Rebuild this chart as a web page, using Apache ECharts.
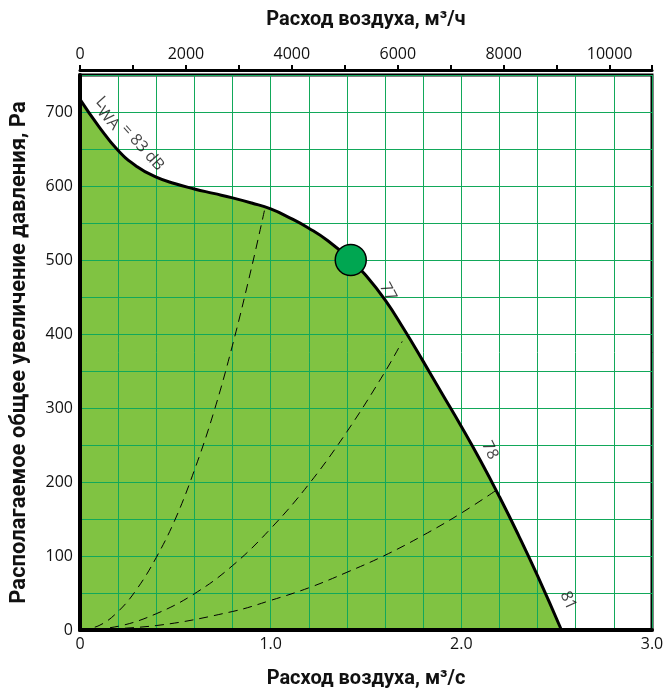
<!DOCTYPE html>
<html>
<head>
<meta charset="utf-8">
<script src="https://cdn.jsdelivr.net/npm/echarts@6/dist/echarts.min.js"></script>
<style>
  html, body { margin: 0; padding: 0; background: #ffffff; }
  #chart { width: 664px; height: 689px; }
</style>
</head>
<body>
<div id="chart"></div>
<script>
// Fan curve: airflow (m³/s) and available total pressure (Pa)
const fanFlow     = [0, 0.1, 0.2, 0.3, 0.4, 0.5, 0.6, 0.7, 0.8, 0.9, 1.0, 1.1, 1.2, 1.3, 1.42, 1.5, 1.6, 1.7, 1.8, 1.9, 2.0, 2.1, 2.2, 2.3, 2.4, 2.525];
const fanPressure = [717, 680, 648, 626, 612, 603, 596, 590, 584, 577, 569, 557, 543, 526, 500, 479, 446, 406, 363, 319, 275, 229, 180, 128, 73, 0];

// System characteristics (dashed)
const sysSteepFlow     = [0, 0.1, 0.2, 0.3, 0.4, 0.5, 0.6, 0.7, 0.8, 0.9, 0.97];
const sysSteepPressure = [0, 6, 25, 56, 98, 150, 216, 293, 385, 490, 570];
const sysMidFlow       = [0, 0.2, 0.4, 0.6, 0.8, 1.0, 1.2, 1.4, 1.6, 1.69];
const sysMidPressure   = [0, 5, 22, 49, 87, 137, 197, 268, 349, 390];
const sysLowFlow       = [0, 0.4, 0.8, 1.0, 1.2, 1.4, 1.6, 1.8, 2.0, 2.19];
const sysLowPressure   = [0, 6, 25, 40, 57, 78, 101, 128, 158, 190];

// Operating point
const dutyFlow = 1.42;
const dutyPressure = 500;

// Sound power labels along the curve
const soundText     = ['83', '77', '78', '81'];
const soundFlow     = [0.25, 1.615, 2.15, 2.56];
const soundPressure = [668, 457, 243, 40];

// Tick labels
const flowTicks     = ['0', '1.0', '2.0', '3.0'];
const flowHourTicks = [0, 2000, 4000, 6000, 8000, 10000];
const pressureTicks = [0, 100, 200, 300, 400, 500, 600, 700];

const pairs = (xs, ys) => xs.map((x, i) => [x, ys[i]]);

const tickFont = { fontFamily: 'Open Sans', fontSize: 16, color: '#111' };
const titleFont = { fontFamily: 'Roboto', fontWeight: 'bold', fontSize: 20, color: '#111' };
const sideTitleFont = { fontFamily: 'Roboto', fontWeight: 'bold', fontSize: 22, color: '#111' };
const gridGreen = '#12a85a';

const soundAngles = [-48, -62, -64, -66];
const soundData = soundText.map((t, i) => ({
  value: [soundFlow[i], soundPressure[i]],
  name: t,
  label: { rotate: soundAngles[i] }
}));

const chart = echarts.init(document.getElementById('chart'), null, { renderer: 'canvas' });

chart.setOption({
  animation: false,
  backgroundColor: '#ffffff',
  grid: {
    left: 80, right: 12, top: 75, bottom: 59,
    outerBoundsMode: 'none', containLabel: false,
    show: true, borderColor: '#000', borderWidth: 3, backgroundColor: 'transparent'
  },
  xAxis: [
    {
      type: 'value', position: 'bottom', min: 0, max: 3, interval: 0.2, z: 2,
      name: 'Расход воздуха, м³/с', nameLocation: 'middle', nameGap: 39,
      nameTextStyle: titleFont,
      axisLine: { show: true, onZero: false, lineStyle: { color: '#000', width: 4 } },
      axisTick: { show: false },
      axisLabel: Object.assign({
        margin: 6,
        formatter: v => {
          const r = Math.round(v);
          return Math.abs(v - r) < 1e-6 ? flowTicks[r] : '';
        }
      }, tickFont),
      splitLine: { show: true, lineStyle: { color: gridGreen, width: 1 } }
    },
    {
      type: 'value', position: 'top', offset: 5, min: 0, max: 3 * 3600, interval: 1000, z: 2,
      name: 'Расход воздуха, м³/ч', nameLocation: 'middle', nameGap: 40,
      nameTextStyle: titleFont,
      axisLine: { show: true, onZero: false, lineStyle: { color: '#000', width: 3 } },
      axisTick: { show: true, length: 5, lineStyle: { color: '#000', width: 2 } },
      axisLabel: Object.assign({
        margin: 8,
        formatter: v => flowHourTicks.indexOf(Math.round(v)) >= 0 ? String(Math.round(v)) : ''
      }, tickFont),
      splitLine: { show: false }
    }
  ],
  yAxis: {
    type: 'value', min: 0, max: 750, interval: 50, z: 2,
    name: 'Располагаемое общее увеличение давления, Pa', nameLocation: 'middle', nameGap: 50,
    nameTextStyle: sideTitleFont,
    axisLine: { show: true, onZero: false, lineStyle: { color: '#000', width: 4 } },
    axisTick: { show: false },
    axisLabel: Object.assign({
      margin: 7,
      formatter: v => pressureTicks.indexOf(Math.round(v)) >= 0 ? String(Math.round(v)) : ''
    }, tickFont),
    splitLine: { show: true, lineStyle: { color: gridGreen, width: 1 } }
  },
  series: [
    {
      name: 'area', type: 'line', xAxisIndex: 0, z: 1,
      data: pairs(fanFlow, fanPressure), smooth: 0.5, symbol: 'none',
      lineStyle: { width: 0 },
      areaStyle: { color: '#80c342', opacity: 1 }
    },
    {
      name: 'fan', type: 'line', xAxisIndex: 0, z: 4,
      data: pairs(fanFlow, fanPressure), smooth: 0.5, symbol: 'none',
      lineStyle: { color: '#000', width: 3 }
    },
    {
      name: 'sysSteep', type: 'line', xAxisIndex: 0, z: 3,
      data: pairs(sysSteepFlow, sysSteepPressure), smooth: 0.4, symbol: 'none',
      lineStyle: { color: '#000', width: 1, type: [9, 6] }
    },
    {
      name: 'sysMid', type: 'line', xAxisIndex: 0, z: 3,
      data: pairs(sysMidFlow, sysMidPressure), smooth: 0.4, symbol: 'none',
      lineStyle: { color: '#000', width: 1, type: [9, 6] }
    },
    {
      name: 'sysLow', type: 'line', xAxisIndex: 0, z: 3,
      data: pairs(sysLowFlow, sysLowPressure), smooth: 0.4, symbol: 'none',
      lineStyle: { color: '#000', width: 1, type: [9, 6] }
    },
    {
      name: 'duty', type: 'scatter', xAxisIndex: 0, z: 5,
      data: [[dutyFlow, dutyPressure]], symbolSize: 31,
      itemStyle: { color: '#00a651', opacity: 1, borderColor: '#000', borderWidth: 1.5 }
    },
    {
      name: 'sound', type: 'scatter', xAxisIndex: 0, z: 6,
      data: soundData, symbolSize: 0,
      label: {
        show: true, position: 'inside', color: '#111', fontFamily: 'Open Sans', fontSize: 16,
        formatter: p => p.name === '83' ? '{a|L}{s|WA}{a| = 83 dB}' : p.name,
        rich: {
          a: { fontFamily: 'Open Sans', fontSize: 16, color: '#111', lineHeight: 22, verticalAlign: 'bottom', padding: [0, 0, 6, 0] },
          s: { fontFamily: 'Open Sans', fontSize: 16, color: '#111', lineHeight: 22, verticalAlign: 'bottom' }
        }
      }
    }
  ]
});
</script>
</body>
</html>
